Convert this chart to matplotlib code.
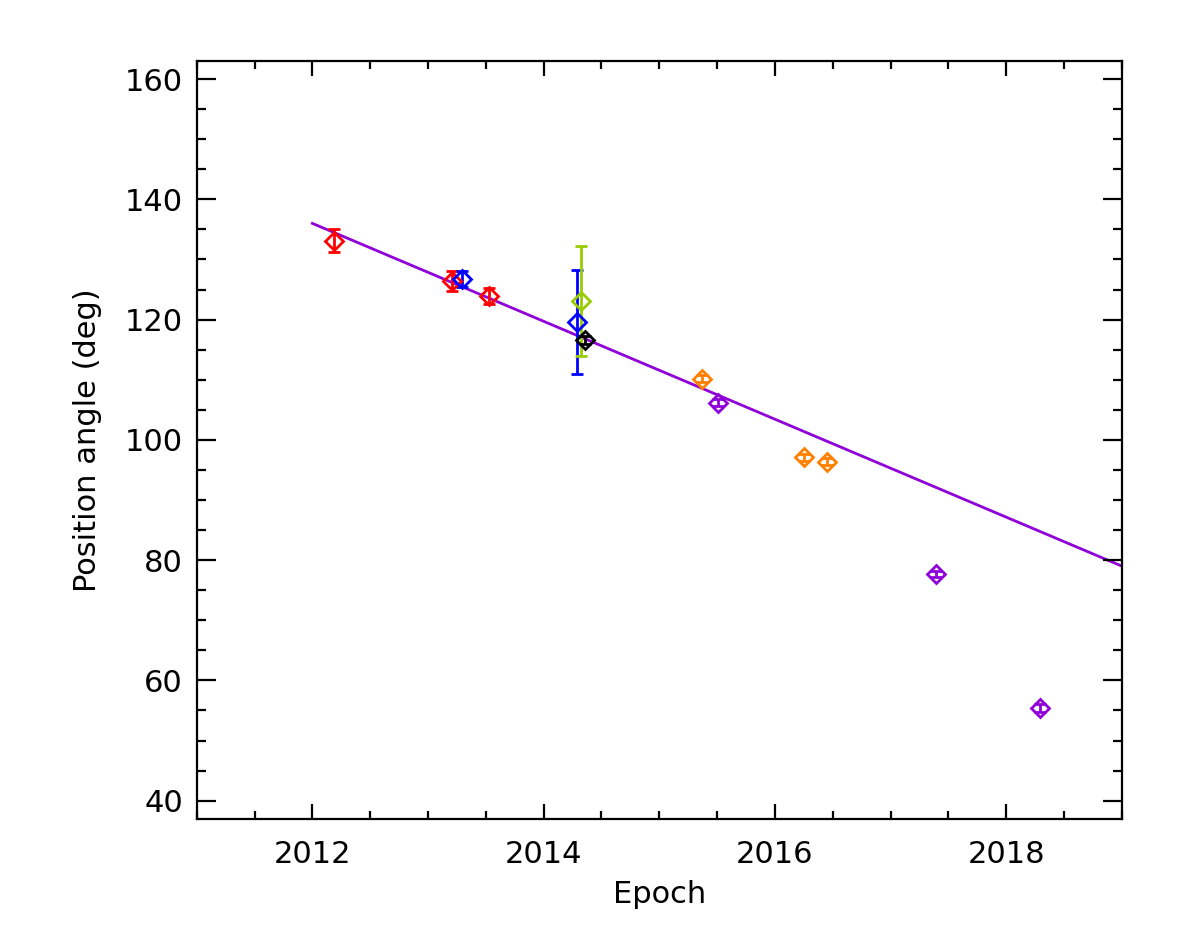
import matplotlib
matplotlib.use('Agg')
import matplotlib.pyplot as plt
from matplotlib.ticker import MultipleLocator
import numpy as np

# data
red_epoch = [2012.19, 2013.21, 2013.53]
red_pa = [133.1, 126.4, 123.9]
red_err = [1.9, 1.6, 1.3]

blue_epoch = [2013.29, 2014.29]
blue_pa = [126.7, 119.6]
blue_err = [1.3, 8.7]

green_epoch = [2014.32]
green_pa = [123.1]
green_err = [9.2]

black_epoch = [2014.36]
black_pa = [116.6]
black_err = [0.7]

orange_epoch = [2015.37, 2016.25, 2016.45]
orange_pa = [110.2, 97.1, 96.4]
orange_err = [0.6, 0.6, 0.6]

purple_epoch = [2015.51, 2017.39, 2018.29]
purple_pa = [106.2, 77.7, 55.4]
purple_err = [0.6, 0.5, 0.6]

fit_epoch = [2012.0, 2019.0]
fit_pa = [136.0, 79.0]

fig = plt.figure(figsize=(11.8, 9.44), dpi=100)
ax = fig.add_axes([0.1667, 0.1327, 0.7841, 0.8027])

ax.plot(fit_epoch, fit_pa, color='#9000d8', lw=2.0, zorder=1)

groups = [
    (red_epoch, red_pa, red_err, '#ff0000'),
    (blue_epoch, blue_pa, blue_err, '#0000ff'),
    (green_epoch, green_pa, green_err, '#99cc00'),
    (black_epoch, black_pa, black_err, '#000000'),
    (orange_epoch, orange_pa, orange_err, '#ff8000'),
    (purple_epoch, purple_pa, purple_err, '#9000d8'),
]
for ep, pa, err, c in groups:
    ax.errorbar(ep, pa, yerr=err, fmt='D', color=c, mfc='none', mec=c,
                ms=9.5, mew=2.0, elinewidth=2.0, capsize=4.5, capthick=2.0,
                zorder=2)

ax.set_xlim(2011, 2019)
ax.set_ylim(37, 163)
ax.xaxis.set_major_locator(MultipleLocator(2))
ax.xaxis.set_minor_locator(MultipleLocator(0.5))
ax.yaxis.set_major_locator(MultipleLocator(20))
ax.yaxis.set_minor_locator(MultipleLocator(5))

for s in ax.spines.values():
    s.set_linewidth(1.6)
ax.tick_params(which='both', direction='in', top=True, right=True, width=1.6,
               labelsize=22)
ax.tick_params(axis='x', which='major', length=11, pad=15)
ax.tick_params(axis='x', which='minor', length=5.5)
ax.tick_params(axis='y', which='major', length=13.5, pad=10)
ax.tick_params(axis='y', which='minor', length=6.5)

ax.set_xlabel('Epoch', fontsize=22, labelpad=8)
ax.set_ylabel('Position angle (deg)', fontsize=22, labelpad=16)

fig.savefig('out.png', dpi=100)
